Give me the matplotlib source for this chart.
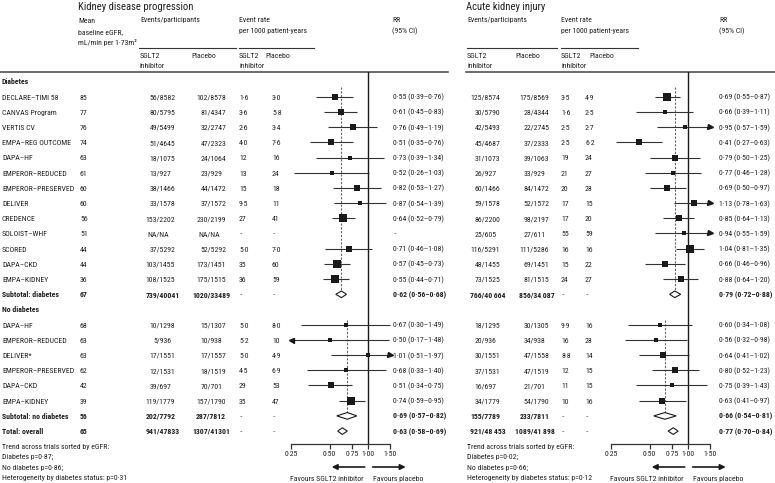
import numpy as np
import matplotlib
matplotlib.use('Agg')
import matplotlib.pyplot as plt
from matplotlib import font_manager as fm
from matplotlib import ticker
from matplotlib.patches import Polygon

# ---------------- data ----------------
names_d = ["DECLARE–TIMI 58", "CANVAS Program", "VERTIS CV", "EMPA–REG OUTCOME", "DAPA–HF",
           "EMPEROR–REDUCED", "EMPEROR–PRESERVED", "DELIVER", "CREDENCE", "SOLOIST–WHF",
           "SCORED", "DAPA–CKD", "EMPA–KIDNEY"]
egfr_d = ["85", "77", "76", "74", "63", "61", "60", "60", "56", "51", "44", "44", "36"]

# Kidney disease progression, diabetes
kdp_ev_s_d = ["56/8582", "80/5795", "49/5499", "51/4645", "18/1075", "13/927", "38/1466", "33/1578",
              "153/2202", "NA/NA", "37/5292", "103/1455", "108/1525"]
kdp_ev_p_d = ["102/8578", "81/4347", "32/2747", "47/2323", "24/1064", "23/929", "44/1472", "37/1572",
              "230/2199", "NA/NA", "52/5292", "173/1451", "175/1515"]
kdp_rt_s_d = ["1·6", "3·6", "2·6", "4·0", "12", "13", "15", "9·5", "27", "··", "5·0", "35", "36"]
kdp_rt_p_d = ["3·0", "5·8", "3·4", "7·6", "16", "24", "18", "11", "41", "··", "7·0", "60", "59"]
kdp_rr_d = [0.55, 0.61, 0.76, 0.51, 0.73, 0.52, 0.82, 0.87, 0.64, None, 0.71, 0.57, 0.55]
kdp_lo_d = [0.39, 0.45, 0.49, 0.35, 0.39, 0.26, 0.53, 0.54, 0.52, None, 0.46, 0.45, 0.44]
kdp_hi_d = [0.76, 0.83, 1.19, 0.76, 1.34, 1.03, 1.27, 1.39, 0.79, None, 1.08, 0.73, 0.71]

# Acute kidney injury, diabetes
aki_ev_s_d = ["125/8574", "30/5790", "42/5493", "45/4687", "31/1073", "26/927", "60/1466", "59/1578",
              "86/2200", "25/605", "116/5291", "48/1455", "73/1525"]
aki_ev_p_d = ["175/8569", "28/4344", "22/2745", "37/2333", "39/1063", "33/929", "84/1472", "52/1572",
              "98/2197", "27/611", "111/5286", "69/1451", "81/1515"]
aki_rt_s_d = ["3·5", "1·6", "2·5", "2·5", "19", "21", "20", "17", "17", "55", "16", "15", "24"]
aki_rt_p_d = ["4·9", "2·5", "2·7", "6·2", "24", "27", "28", "15", "20", "59", "16", "22", "27"]
aki_rr_d = [0.69, 0.66, 0.95, 0.41, 0.79, 0.77, 0.69, 1.13, 0.85, 0.94, 1.04, 0.66, 0.88]
aki_lo_d = [0.55, 0.39, 0.57, 0.27, 0.50, 0.46, 0.50, 0.78, 0.64, 0.55, 0.81, 0.46, 0.64]
aki_hi_d = [0.87, 1.11, 1.59, 0.63, 1.25, 1.28, 0.97, 1.63, 1.13, 1.59, 1.35, 0.96, 1.20]

names_n = ["DAPA–HF", "EMPEROR–REDUCED", "DELIVER*", "EMPEROR–PRESERVED", "DAPA–CKD", "EMPA–KIDNEY"]
egfr_n = ["68", "63", "63", "62", "42", "39"]

kdp_ev_s_n = ["10/1298", "5/936", "17/1551", "12/1531", "39/697", "119/1779"]
kdp_ev_p_n = ["15/1307", "10/938", "17/1557", "18/1519", "70/701", "157/1790"]
kdp_rt_s_n = ["5·0", "5·2", "5·0", "4·5", "29", "35"]
kdp_rt_p_n = ["8·0", "10", "4·9", "6·9", "53", "47"]
kdp_rr_n = [0.67, 0.50, 1.01, 0.68, 0.51, 0.74]
kdp_lo_n = [0.30, 0.17, 0.51, 0.33, 0.34, 0.59]
kdp_hi_n = [1.49, 1.48, 1.97, 1.40, 0.75, 0.95]

aki_ev_s_n = ["18/1295", "20/936", "30/1551", "37/1531", "16/697", "34/1779"]
aki_ev_p_n = ["30/1305", "34/938", "47/1558", "47/1519", "21/701", "54/1790"]
aki_rt_s_n = ["9·9", "16", "8·8", "12", "11", "10"]
aki_rt_p_n = ["16", "28", "14", "15", "15", "16"]
aki_rr_n = [0.60, 0.56, 0.64, 0.80, 0.75, 0.63]
aki_lo_n = [0.34, 0.32, 0.41, 0.52, 0.39, 0.41]
aki_hi_n = [1.08, 0.98, 1.02, 1.23, 1.43, 0.97]

# summary rows
sum_labels = ["Subtotal: diabetes", "Subtotal: no diabetes", "Total: overall"]
sum_egfr = ["67", "56", "65"]
kdp_sum_ev_s = ["739/40041", "202/7792", "941/47833"]
kdp_sum_ev_p = ["1020/33489", "287/7812", "1307/41301"]
kdp_sum_rr = [0.62, 0.69, 0.63]
kdp_sum_lo = [0.56, 0.57, 0.58]
kdp_sum_hi = [0.68, 0.82, 0.69]
aki_sum_ev_s = ["766/40\u2009664", "155/7789", "921/48\u2009453"]
aki_sum_ev_p = ["856/34\u2009087", "233/7811", "1089/41\u2009898"]
aki_sum_rr = [0.79, 0.66, 0.77]
aki_sum_lo = [0.72, 0.54, 0.70]
aki_sum_hi = [0.88, 0.81, 0.84]

tick_vals = [0.25, 0.50, 0.75, 1.00, 1.50]
tick_labels = ["0·25", "0·50", "0·75", "1·00", "1·50"]

kdp_notes = ["Trend across trials sorted by eGFR:", "Diabetes p=0·87;", "No diabetes p=0·86;",
             "Heterogeneity by diabetes status: p=0·31"]
aki_notes = ["Trend across trials sorted by eGFR:", "Diabetes p=0·02;", "No diabetes p=0·66;",
             "Heterogeneity by diabetes status: p=0·12"]

# ---------------- style ----------------
avail = {f.name for f in fm.fontManager.ttflist}
FONT = 'Roboto'
FS = 5.0
for cand, fs in [('Liberation Sans Narrow', 5.9), ('Roboto Condensed', 5.6), ('Roboto', 5.0)]:
    if cand in avail:
        FONT, FS = cand, fs
        break
plt.rcParams['font.family'] = [FONT, 'DejaVu Sans']

TXT = '#231f20'
LINE = '#333333'
MK = '#1a1a1a'
DASH = '#3b7390'

W, H = 775, 483
ROW0, DY = 81.5, 15.2
TOPY, AXY = 72, 444
K = 55.0


def ry(i):
    return ROW0 + DY * i


fig = plt.figure(figsize=(W / 100, H / 100), dpi=100)
bg = fig.add_axes([0, 0, 1, 1])
bg.set_xlim(0, W)
bg.set_ylim(H, 0)
bg.axis('off')
renderer = fig.canvas.get_renderer()


def T(x, y, s, ha='left', bold=False, size=None):
    sz = size or FS
    off = 0.36 * sz * 100 / 72  # half cap height in px
    return bg.text(x, y + off, s, ha=ha, va='baseline', fontsize=sz,
                   fontweight='bold' if bold else 'normal', color=TXT)


def width_px(s, bold=False):
    t = bg.text(0, 0, s, fontsize=FS, fontweight='bold' if bold else 'normal')
    w = t.get_window_extent(renderer).width
    t.remove()
    return w


def TS(xslash, y, s, bold=False):
    # align on the slash, drawn as one text object
    if '/' in s:
        num = s.split('/', 1)[0]
        T(xslash - width_px(num, bold), y, s, ha='left', bold=bold)
    else:
        T(xslash, y, s, ha='center', bold=bold)


def fmt(rr, lo, hi):
    if rr is None:
        return "··"
    return f"{rr:.2f} ({lo:.2f}–{hi:.2f})".replace('.', '·')


# ---------------- headers ----------------
HS = FS * 1.36
T(78, 6, "Kidney disease progression", size=HS)
T(466, 6, "Acute kidney injury", size=HS)
T(78, 20, "Mean")
T(78, 31, "baseline eGFR,")
T(78, 42, "mL/min per 1·73m²")
for x0, xr, xrr, xp, xrp in [(140, 239, 392, 191, 265), (467, 561, 719, 515, 589)]:
    T(x0, 19, "Events/participants")
    T(xr, 19, "Event rate")
    T(xr, 30, "per 1000 patient-years")
    T(xrr, 19, "RR")
    T(xrr, 30, "(95% CI)")
    T(x0, 55, "SGLT2")
    T(x0, 65, "inhibitor")
    T(xp, 55, "Placebo")
    T(xr, 55, "SGLT2")
    T(xr, 65, "inhibitor")
    T(xrp, 55, "Placebo")

bg.plot([139, 236], [47.5, 47.5], color=LINE, lw=0.8)
bg.plot([239, 314], [47.5, 47.5], color=LINE, lw=0.8)
bg.plot([467, 557], [47.5, 47.5], color=LINE, lw=0.8)
bg.plot([561, 638], [47.5, 47.5], color=LINE, lw=0.8)
bg.plot([0, 448], [TOPY, TOPY], color='#444444', lw=1.1)
bg.plot([466, W], [TOPY, TOPY], color='#444444', lw=1.1)

# column x positions
XN, XE = 2, 80
L_ES, L_EP, L_RS, L_RP, L_RR = 157, 208, 239, 272, 393
R_ES, R_EP, R_RS, R_RP, R_RR = 482, 531, 561, 585, 719

# ---------------- table text ----------------
T(XN, ry(0), "Diabetes", bold=True)
T(XN, ry(15), "No diabetes", bold=True)

groups = [
    (1, names_d, egfr_d, kdp_ev_s_d, kdp_ev_p_d, kdp_rt_s_d, kdp_rt_p_d, kdp_rr_d, kdp_lo_d, kdp_hi_d,
     aki_ev_s_d, aki_ev_p_d, aki_rt_s_d, aki_rt_p_d, aki_rr_d, aki_lo_d, aki_hi_d),
    (16, names_n, egfr_n, kdp_ev_s_n, kdp_ev_p_n, kdp_rt_s_n, kdp_rt_p_n, kdp_rr_n, kdp_lo_n, kdp_hi_n,
     aki_ev_s_n, aki_ev_p_n, aki_rt_s_n, aki_rt_p_n, aki_rr_n, aki_lo_n, aki_hi_n),
]
for g in groups:
    start = g[0]
    for j, name in enumerate(g[1]):
        y = ry(start + j)
        T(XN, y, name)
        T(XE, y, g[2][j])
        TS(L_ES, y, g[3][j])
        TS(L_EP, y, g[4][j])
        T(L_RS, y, g[5][j])
        T(L_RP, y, g[6][j])
        T(L_RR, y, fmt(g[7][j], g[8][j], g[9][j]))
        TS(R_ES, y, g[10][j])
        TS(R_EP, y, g[11][j])
        T(R_RS, y, g[12][j])
        T(R_RP, y, g[13][j])
        T(R_RR, y, fmt(g[14][j], g[15][j], g[16][j]))

sum_rows = [14, 22, 23]
for k, r in enumerate(sum_rows):
    y = ry(r)
    T(XN, y, sum_labels[k], bold=True)
    T(XE, y, sum_egfr[k], bold=True)
    TS(L_ES, y, kdp_sum_ev_s[k], bold=True)
    TS(L_EP, y, kdp_sum_ev_p[k], bold=True)
    T(L_RS, y, "··")
    T(L_RP, y, "··")
    T(L_RR, y, fmt(kdp_sum_rr[k], kdp_sum_lo[k], kdp_sum_hi[k]), bold=True)
    TS(R_ES, y, aki_sum_ev_s[k], bold=True)
    TS(R_EP, y, aki_sum_ev_p[k], bold=True)
    T(R_RS, y, "··")
    T(R_RP, y, "··")
    T(R_RR, y, fmt(aki_sum_rr[k], aki_sum_lo[k], aki_sum_hi[k]), bold=True)

for k, s in enumerate(kdp_notes):
    T(2, 446 + k * 10.3, s)
for k, s in enumerate(aki_notes):
    T(467, 446 + k * 10.3, s)


# ---------------- forest plots ----------------
def make_forest(xref, x0, x1):
    ax = fig.add_axes([x0 / W, 1 - AXY / H, (x1 - x0) / W, (AXY - TOPY) / H])
    ax.set_xscale('log')
    ax.set_xlim(np.exp((x0 - xref) / K), np.exp((x1 - xref) / K))
    ax.set_ylim((AXY - ROW0) / DY, (TOPY - ROW0) / DY)
    ax.patch.set_alpha(0)
    for s in ['top', 'left', 'right']:
        ax.spines[s].set_visible(False)
    ax.spines['bottom'].set_bounds(tick_vals[0], tick_vals[-1])
    ax.spines['bottom'].set_linewidth(0.9)
    ax.spines['bottom'].set_color(LINE)
    ax.xaxis.set_major_locator(ticker.FixedLocator(tick_vals))
    ax.xaxis.set_major_formatter(ticker.FixedFormatter(tick_labels))
    ax.xaxis.set_minor_locator(ticker.NullLocator())
    ax.tick_params(axis='x', direction='out', length=3.5, width=0.9, color=LINE,
                   labelsize=FS, labelcolor=TXT, pad=1.5)
    ax.set_yticks([])
    ax.axvline(1.0, color=MK, lw=1.0, zorder=1)
    return ax


def draw_trial(ax, row, rr, lo, hi):
    if rr is None:
        return
    lo_c, hi_c = max(lo, tick_vals[0]), min(hi, tick_vals[-1])
    ax.plot([lo_c, hi_c], [row, row], color=LINE, lw=0.8, solid_capstyle='butt', zorder=2)
    if lo < tick_vals[0]:
        ax.plot(lo_c, row, marker='<', ms=3.6, color=MK, zorder=3, clip_on=False)
    if hi > tick_vals[-1]:
        ax.plot(hi_c, row, marker='>', ms=3.6, color=MK, zorder=3, clip_on=False)
    se = (np.log(hi) - np.log(lo)) / 3.92
    side_px = 1.8 + 0.75 / se
    ax.plot(rr, row, marker='s', ms=side_px * 0.72, color=MK, mec=MK, mew=0, zorder=4)


def diamond(ax, row, rr, lo, hi, h=0.22):
    ax.add_patch(Polygon([(lo, row), (rr, row - h), (hi, row), (rr, row + h)], closed=True,
                         fc='white', ec=MK, lw=0.8, zorder=4))


def fill_forest(ax, rr_d, lo_d, hi_d, rr_n, lo_n, hi_n, srr, slo, shi, xref):
    for j in range(len(rr_d)):
        draw_trial(ax, 1 + j, rr_d[j], lo_d[j], hi_d[j])
    for j in range(len(rr_n)):
        draw_trial(ax, 16 + j, rr_n[j], lo_n[j], hi_n[j])
    for k, r in enumerate(sum_rows):
        diamond(ax, r, srr[k], slo[k], shi[k])
    ax.plot([srr[0], srr[0]], [0.36, 14 - 0.22], color=DASH, lw=0.8, dashes=(2.0, 1.4), zorder=1)
    ax.plot([srr[1], srr[1]], [15.7, 22 - 0.22], color=DASH, lw=0.8, dashes=(2.0, 1.4), zorder=1)
    ya = 467
    bg.annotate('', xy=(xref - 36, ya), xytext=(xref - 3, ya),
                arrowprops=dict(arrowstyle='-|>', lw=1.2, color=MK, mutation_scale=8,
                                shrinkA=0, shrinkB=0))
    bg.annotate('', xy=(xref + 38, ya), xytext=(xref + 5, ya),
                arrowprops=dict(arrowstyle='-|>', lw=1.2, color=MK, mutation_scale=8,
                                shrinkA=0, shrinkB=0))
    T(xref - 41, 478, "Favours SGLT2 inhibitor", ha='center')
    T(xref + 30, 478, "Favours placebo", ha='center')


axL = make_forest(367.7, 280, 396)
fill_forest(axL, kdp_rr_d, kdp_lo_d, kdp_hi_d, kdp_rr_n, kdp_lo_n, kdp_hi_n,
            kdp_sum_rr, kdp_sum_lo, kdp_sum_hi, 367.7)
axR = make_forest(687.7, 600, 716)
fill_forest(axR, aki_rr_d, aki_lo_d, aki_hi_d, aki_rr_n, aki_lo_n, aki_hi_n,
            aki_sum_rr, aki_sum_lo, aki_sum_hi, 687.7)

fig.savefig('out.png', dpi=100)
